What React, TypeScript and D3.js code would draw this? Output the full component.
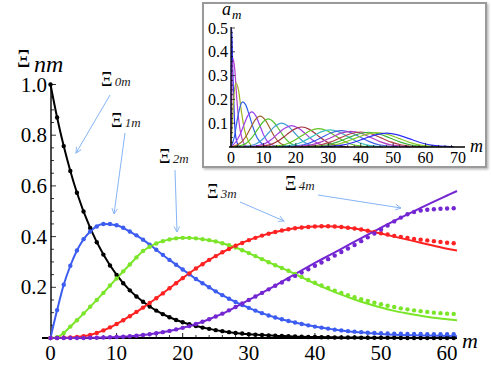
import React from 'react';
import * as d3 from 'd3';

// main chart: Xi_nm against m (dots = numeric, lines = fit)
const seriesNames = ['Ξ0m', 'Ξ1m', 'Ξ2m', 'Ξ3m', 'Ξ4m'];
const seriesColors = ['#000000', '#3d5cf0', '#7be52a', '#ff2222', '#7326d2'];

const lineM = [0, 1, 2, 3, 4, 6, 8, 10, 12, 14, 16, 18, 20, 22, 24, 26, 28, 30, 32, 34, 36, 38, 40, 42, 44, 46, 48, 50, 52, 54, 56, 58, 60, 61.5];
const line0 = [1, 0.87, 0.757, 0.659, 0.573, 0.434, 0.329, 0.249, 0.188, 0.143, 0.108, 0.082, 0.062, 0.047, 0.036, 0.027, 0.02, 0.015, 0.012, 0.009, 0.007, 0.005, 0.004, 0.003, 0.002, 0.002, 0.001, 0.001, 0.001, 0, 0, 0, 0, 0];
const line1 = [0, 0.11, 0.21, 0.285, 0.345, 0.42, 0.45, 0.445, 0.42, 0.388, 0.348, 0.308, 0.27, 0.233, 0.2, 0.169, 0.142, 0.119, 0.098, 0.081, 0.067, 0.055, 0.045, 0.037, 0.03, 0.024, 0.02, 0.016, 0.013, 0.011, 0.01, 0.009, 0.008, 0.007];
const line2 = [0, 0.003, 0.02, 0.045, 0.07, 0.123, 0.178, 0.235, 0.29, 0.343, 0.373, 0.389, 0.395, 0.393, 0.386, 0.374, 0.357, 0.335, 0.311, 0.287, 0.265, 0.24, 0.215, 0.192, 0.171, 0.152, 0.135, 0.12, 0.107, 0.097, 0.088, 0.08, 0.074, 0.07];
const line3 = [0, 0, 0.001, 0.002, 0.004, 0.012, 0.03, 0.055, 0.086, 0.12, 0.157, 0.196, 0.236, 0.274, 0.308, 0.338, 0.364, 0.386, 0.404, 0.418, 0.429, 0.436, 0.44, 0.441, 0.438, 0.432, 0.423, 0.412, 0.4, 0.388, 0.376, 0.364, 0.352, 0.345];
const line4 = [0, 0, 0, 0, 0, 0.001, 0.002, 0.004, 0.007, 0.012, 0.019, 0.028, 0.04, 0.055, 0.074, 0.096, 0.122, 0.15, 0.178, 0.207, 0.237, 0.267, 0.296, 0.324, 0.352, 0.38, 0.408, 0.435, 0.462, 0.488, 0.513, 0.538, 0.562, 0.58];

const dotM = [0, 1, 2, 3, 4, 5, 6, 7, 8, 9, 10, 11, 12, 13, 14, 15, 16, 17, 18, 19, 20, 21, 22, 23, 24, 25, 26, 27, 28, 29, 30, 31, 32, 33, 34, 35, 36, 37, 38, 39, 40, 41, 42, 43, 44, 45, 46, 47, 48, 49, 50, 51, 52, 53, 54, 55, 56, 57, 58, 59, 60, 61];
const dots0 = [1, 0.87, 0.757, 0.659, 0.573, 0.499, 0.434, 0.378, 0.329, 0.286,
  0.249, 0.216, 0.188, 0.164, 0.143, 0.124, 0.108, 0.094, 0.082, 0.071,
  0.062, 0.054, 0.047, 0.041, 0.036, 0.031, 0.027, 0.023, 0.02, 0.018,
  0.015, 0.013, 0.012, 0.01, 0.009, 0.008, 0.007, 0.006, 0.005, 0.004,
  0.004, 0.003, 0.003, 0.002, 0.002, 0.002, 0.002, 0.001, 0.001, 0.001,
  0.001, 0.001, 0.001, 0, 0, 0, 0, 0, 0, 0, 0, 0];
const dots1 = [0, 0.11, 0.21, 0.285, 0.345, 0.39, 0.42, 0.44, 0.45, 0.45,
  0.445, 0.435, 0.42, 0.405, 0.388, 0.368, 0.348, 0.328, 0.308, 0.289,
  0.27, 0.251, 0.233, 0.216, 0.2, 0.184, 0.169, 0.155, 0.142, 0.13,
  0.119, 0.108, 0.098, 0.089, 0.081, 0.074, 0.067, 0.061, 0.055, 0.05,
  0.045, 0.041, 0.037, 0.033, 0.03, 0.027, 0.025, 0.023, 0.021, 0.02,
  0.019, 0.018, 0.017, 0.017, 0.016, 0.016, 0.016, 0.015, 0.015, 0.015, 0.015, 0.015];
const dots2 = [0, 0.003, 0.02, 0.045, 0.07, 0.097, 0.123, 0.15, 0.178, 0.207,
  0.235, 0.263, 0.29, 0.318, 0.343, 0.36, 0.373, 0.382, 0.389, 0.393,
  0.395, 0.395, 0.393, 0.39, 0.386, 0.381, 0.374, 0.366, 0.357, 0.346,
  0.335, 0.323, 0.311, 0.299, 0.287, 0.276, 0.265, 0.253, 0.241, 0.229,
  0.218, 0.207, 0.197, 0.187, 0.178, 0.169, 0.161, 0.153, 0.146, 0.139,
  0.133, 0.127, 0.122, 0.117, 0.113, 0.109, 0.106, 0.103, 0.1, 0.098, 0.096, 0.095];
const dots3 = [0, 0, 0.001, 0.002, 0.004, 0.007, 0.012, 0.02, 0.03, 0.042,
  0.055, 0.07, 0.086, 0.103, 0.12, 0.138, 0.157, 0.176, 0.196, 0.216,
  0.236, 0.255, 0.274, 0.291, 0.308, 0.323, 0.338, 0.351, 0.364, 0.375,
  0.386, 0.395, 0.404, 0.411, 0.418, 0.424, 0.429, 0.433, 0.436, 0.438,
  0.44, 0.441, 0.441, 0.44, 0.438, 0.435, 0.432, 0.428, 0.423, 0.418,
  0.413, 0.408, 0.403, 0.399, 0.395, 0.391, 0.388, 0.385, 0.382, 0.379, 0.376, 0.374];
const dots4 = [0, 0, 0, 0, 0, 0, 0.001, 0.001, 0.002, 0.003,
  0.004, 0.005, 0.007, 0.009, 0.012, 0.015, 0.019, 0.023, 0.028, 0.034,
  0.04, 0.047, 0.055, 0.064, 0.074, 0.085, 0.096, 0.109, 0.122, 0.136,
  0.15, 0.164, 0.178, 0.192, 0.206, 0.219, 0.232, 0.245, 0.258, 0.271,
  0.285, 0.298, 0.311, 0.325, 0.339, 0.353, 0.367, 0.382, 0.397, 0.412,
  0.428, 0.444, 0.46, 0.475, 0.488, 0.497, 0.503, 0.506, 0.508, 0.51, 0.511, 0.512];

const xTicks = [0, 10, 20, 30, 40, 50, 60];
const yTicks = [0.2, 0.4, 0.6, 0.8, 1.0];

// inset: a_m curves
const insetXTicks = [0, 10, 20, 30, 40, 50, 60, 70];
const insetYTicks = [0.1, 0.2, 0.3, 0.4, 0.5];
const insetColors = ['#2f2ff5', '#b23fcf', '#a2b21e', '#2f63e6', '#9a3ff0', '#a0622c', '#4fc22d', '#3f9ed4',
  '#a23fe0', '#a2303f', '#5fc220', '#3cc0c0', '#3f5fe8', '#b03fc4', '#b0404c', '#3fb23f', '#8cc82c', '#2f2ff8'];
const insetM = [
  [0, 0.15, 0.3, 0.6, 1.0, 1.5, 2.2, 3],
  [0, 0.3, 0.7, 1.2, 1.8, 2.5, 3.3, 4.2, 5.5],
  [0, 0.5, 1, 1.6, 2.3, 3.2, 4.2, 5.5, 7],
  [0, 1, 2, 3, 3.6, 4.5, 5.5, 6.5, 8, 10, 11],
  [0, 1.4, 2.65, 3.9, 5.15, 6.4, 7.65, 8.9, 10.15, 11.4, 13.9],
  [0, 3, 4.5, 6, 7.5, 9, 10.5, 12, 13.5, 15, 18],
  [1.3, 4.7, 6.4, 8.1, 9.8, 11.5, 13.2, 14.9, 16.6, 18.3, 21.7],
  [3.9, 7.8, 9.75, 11.7, 13.65, 15.6, 17.55, 19.5, 21.45, 23.4, 27.3],
  [5.8, 10.1, 12.25, 14.4, 16.55, 18.7, 20.85, 23, 25.15, 27.3, 31.6],
  [7.7, 12.4, 14.75, 17.1, 19.45, 21.8, 24.15, 26.5, 28.85, 31.2, 35.9],
  [11.4, 16.6, 19.2, 21.8, 24.4, 27, 29.6, 32.2, 34.8, 37.4, 42.6],
  [14, 19.5, 22.25, 25, 27.75, 30.5, 33.25, 36, 38.75, 41.5, 47],
  [16.6, 22.4, 25.3, 28.2, 31.1, 34, 36.9, 39.8, 42.7, 45.6, 51.4],
  [18.7, 24.8, 27.85, 30.9, 33.95, 37, 40.05, 43.1, 46.15, 49.2, 55.3],
  [21.1, 27.4, 30.55, 33.7, 36.85, 40, 43.15, 46.3, 49.45, 52.6, 58.9],
  [23, 29.5, 32.75, 36, 39.25, 42.5, 45.75, 49, 52.25, 55.5, 62],
  [24.9, 31.6, 34.95, 38.3, 41.65, 45, 48.35, 51.7, 55.05, 58.4, 65.1],
  [27.3, 34.2, 37.65, 41.1, 44.55, 48, 51.45, 54.9, 58.35, 61.8, 68.7],
];
const insetA = [
  [0, 0.5, 0.46, 0.3, 0.13, 0.04, 0.008, 0],
  [0, 0.25, 0.37, 0.32, 0.2, 0.1, 0.04, 0.01, 0],
  [0, 0.13, 0.23, 0.27, 0.24, 0.15, 0.07, 0.02, 0],
  [0, 0.04, 0.12, 0.178, 0.19, 0.178, 0.14, 0.095, 0.04, 0.008, 0],
  [0.002, 0.02, 0.048, 0.09, 0.131, 0.148, 0.131, 0.09, 0.048, 0.02, 0.002],
  [0.001, 0.018, 0.042, 0.079, 0.115, 0.13, 0.115, 0.079, 0.042, 0.018, 0.001],
  [0.001, 0.016, 0.038, 0.072, 0.104, 0.118, 0.104, 0.072, 0.038, 0.016, 0.001],
  [0.001, 0.0135, 0.0325, 0.061, 0.088, 0.1, 0.088, 0.061, 0.0325, 0.0135, 0.001],
  [0.001, 0.012, 0.029, 0.055, 0.079, 0.09, 0.079, 0.055, 0.029, 0.012, 0.001],
  [0.001, 0.011, 0.027, 0.051, 0.074, 0.084, 0.074, 0.051, 0.027, 0.011, 0.001],
  [0.001, 0.0104, 0.025, 0.047, 0.068, 0.077, 0.068, 0.047, 0.025, 0.0104, 0.001],
  [0.001, 0.0097, 0.0234, 0.0437, 0.0635, 0.072, 0.0635, 0.0437, 0.0234, 0.0097, 0.001],
  [0.001, 0.0093, 0.0224, 0.0419, 0.0609, 0.069, 0.0609, 0.0419, 0.0224, 0.0093, 0.001],
  [0.001, 0.0089, 0.0215, 0.04, 0.0582, 0.066, 0.0582, 0.04, 0.0215, 0.0089, 0.001],
  [0.001, 0.0085, 0.0205, 0.0382, 0.0556, 0.063, 0.0556, 0.0382, 0.0205, 0.0085, 0.001],
  [0.001, 0.0084, 0.0202, 0.0376, 0.0547, 0.062, 0.0547, 0.0376, 0.0202, 0.0084, 0.001],
  [0.001, 0.0081, 0.0195, 0.0364, 0.0529, 0.06, 0.0529, 0.0364, 0.0195, 0.0081, 0.001],
  [0.001, 0.0078, 0.0189, 0.0352, 0.0512, 0.058, 0.0512, 0.0352, 0.0189, 0.0078, 0.001],
];

const serif = { fontFamily: 'Liberation Serif, Times New Roman, Times, serif' };
const ARROW = '#86b4f4';

function XiLabel({ x, y, sub, size = 21, subSize = 13 }) {
  const sx = 0.85;
  const w = size * 0.72 * sx;
  return (
    <g transform={`translate(${x},${y})`} style={serif}>
      <text transform={`scale(${sx},1)`} fontSize={size} fill="#000">Ξ</text>
      <text x={w + 1} fontSize={subSize} fontStyle="italic" fill="#222">{sub}</text>
    </g>
  );
}

export default function App() {
  const x = d3.scaleLinear().domain([0, 60]).range([50.5, 447.1]);
  const y = d3.scaleLinear().domain([0, 1]).range([338, 84.5]);
  const xi = d3.scaleLinear().domain([0, 70]).range([231, 458]);
  const yi = d3.scaleLinear().domain([0, 0.5]).range([147, 28]);

  const lines = [line0, line1, line2, line3, line4];
  const dots = [dots0, dots1, dots2, dots3, dots4];

  const mainLine = d3.line<number>()
    .x((_, i) => x(lineM[i]))
    .y(d => y(d))
    .curve(d3.curveMonotoneX);

  const minorX = d3.range(0, 62, 2).filter(v => v % 10 !== 0);
  const minorY = d3.range(0.05, 1.0001, 0.05);

  // arrows: label -> curve
  const arrows = [
    [110, 95, 76, 153],
    [125, 133, 114, 214],
    [175, 170, 177, 232],
    [240, 202, 284, 221],
    [318, 195, 401, 208],
  ];

  return (
    <svg width={491} height={368} style={{ position: 'absolute', left: 0, top: 0, background: '#fff' }}>
      <defs>
        <marker id="ah" viewBox="0 0 10 10" refX="9" refY="5" markerWidth="7" markerHeight="7" orient="auto">
          <path d="M1,1 L9,5 L1,9" fill="none" stroke={ARROW} strokeWidth="1.3" />
        </marker>
        <clipPath id="insetClip">
          <rect x={228} y={26} width={240} height={122} />
        </clipPath>
        <filter id="shadow" x="-5%" y="-5%" width="112%" height="115%">
          <feDropShadow dx="1.5" dy="1.5" stdDeviation="1.2" floodColor="#888" floodOpacity="0.6" />
        </filter>
      </defs>

      {/* main axes */}
      <line x1={51} x2={51} y1={84} y2={338} stroke="#000" strokeWidth={1.4} />
      <line x1={42} x2={457} y1={338} y2={338} stroke="#000" strokeWidth={2} />
      {minorY.map((v, i) => (
        <line key={'my' + i} x1={51} x2={Math.abs(v * 5 - Math.round(v * 5)) < 1e-6 ? 56 : 54} y1={y(v)} y2={y(v)} stroke="#000" strokeWidth={0.8} />
      ))}
      {minorX.map(v => (
        <line key={'mx' + v} x1={x(v)} x2={x(v)} y1={338} y2={335} stroke="#000" strokeWidth={0.8} />
      ))}
      {xTicks.map(v => (
        <g key={'xt' + v}>
          <line x1={x(v)} x2={x(v)} y1={338} y2={333} stroke="#000" strokeWidth={0.9} />
          <text x={x(v)} y={360} textAnchor="middle" style={serif} fontSize={21} fill="#000">{v}</text>
        </g>
      ))}
      {yTicks.map(v => (
        <text key={'yt' + v} x={47} y={y(v) + 7} textAnchor="end" style={serif} fontSize={21} fill="#000">{v.toFixed(1)}</text>
      ))}

      {/* axis labels */}
      <g style={serif}>
        <text transform="translate(17,67) scale(0.8,1)" fontSize={26} fill="#000">Ξ</text>
        <text x={34} y={72} fontSize={24} fontStyle="italic" fill="#000">nm</text>
        <text x={462} y={348} fontSize={22} fontStyle="italic" fill="#000">m</text>
      </g>

      {/* series */}
      {lines.map((ln, s) => (
        <path key={'ln' + s} d={mainLine(ln) || ''} fill="none" stroke={seriesColors[s]} strokeWidth={2} />
      ))}
      {dots.map((ds, s) => (
        <g key={'ds' + s} fill={seriesColors[s]}>
          {ds.map((v, i) => (
            <circle key={i} cx={x(dotM[i])} cy={y(v)} r={2.2} />
          ))}
        </g>
      ))}

      {/* labels + arrows */}
      {arrows.map((a, i) => (
        <line key={'ar' + i} x1={a[0]} y1={a[1]} x2={a[2]} y2={a[3]} stroke={ARROW} strokeWidth={1} markerEnd="url(#ah)" />
      ))}
      <XiLabel x={101} y={86} sub={seriesNames[0].slice(1)} />
      <XiLabel x={111} y={127} sub={seriesNames[1].slice(1)} />
      <XiLabel x={159} y={163} sub={seriesNames[2].slice(1)} />
      <XiLabel x={207} y={198} sub={seriesNames[3].slice(1)} />
      <XiLabel x={285} y={190} sub={seriesNames[4].slice(1)} />

      {/* inset */}
      <rect x={203} y={3} width={283} height={164} fill="#fff" stroke="#9a9a9a" strokeWidth={2} filter="url(#shadow)" />
      <g clipPath="url(#insetClip)">
        {insetA.map((arr, k) => {
          const ln = d3.line<number>()
            .x((_, i) => xi(insetM[k][i]))
            .y(d => yi(d))
            .curve(d3.curveMonotoneX);
          return <path key={'in' + k} d={ln(arr) || ''} fill="none" stroke={insetColors[k]} strokeWidth={1.2} />;
        })}
      </g>
      <line x1={231} x2={231} y1={27} y2={147} stroke="#000" strokeWidth={1.2} />
      <line x1={229} x2={465} y1={147} y2={147} stroke="#000" strokeWidth={1.4} />
      {d3.range(2, 70, 2).map(v => (
        <line key={'imx' + v} x1={xi(v)} x2={xi(v)} y1={147} y2={v % 10 === 0 ? 143 : 145} stroke="#000" strokeWidth={0.7} />
      ))}
      {d3.range(0.02, 0.5001, 0.02).map((v, i) => (
        <line key={'imy' + i} x1={231} x2={(i + 1) % 5 === 0 ? 235 : 233} y1={yi(v)} y2={yi(v)} stroke="#000" strokeWidth={0.7} />
      ))}
      {insetXTicks.map(v => (
        <text key={'ixt' + v} x={xi(v)} y={163} textAnchor="middle" style={serif} fontSize={16} fill="#000">{v}</text>
      ))}
      {insetYTicks.map(v => (
        <text key={'iyt' + v} x={228} y={yi(v) + 5.5} textAnchor="end" style={serif} fontSize={16} fill="#000">{v.toFixed(1)}</text>
      ))}
      <g style={serif} fontStyle="italic" fill="#000">
        <text x={222} y={15} fontSize={18}>a</text>
        <text x={232} y={19} fontSize={13}>m</text>
        <text x={470} y={152} fontSize={18}>m</text>
      </g>
    </svg>
  );
}
